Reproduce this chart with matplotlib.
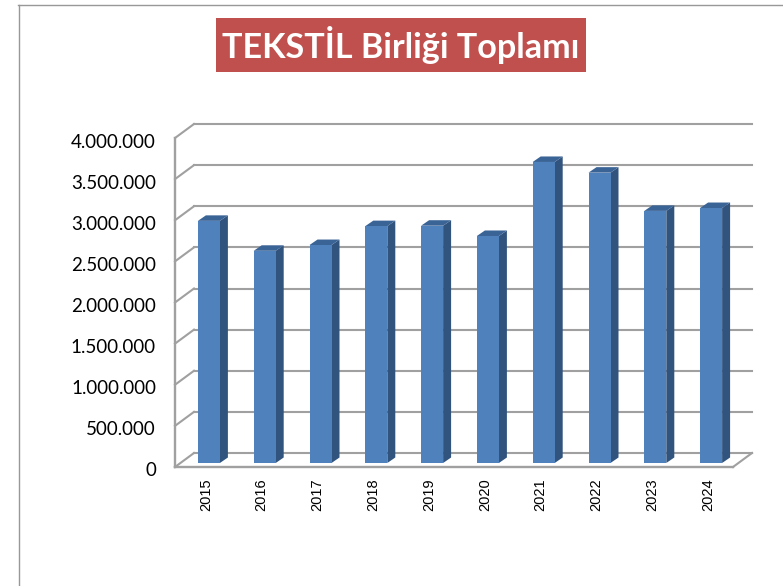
import numpy as np
import matplotlib.pyplot as plt
from matplotlib.patches import Polygon, Rectangle
from matplotlib.transforms import ScaledTranslation

# values
years = ["2015", "2016", "2017", "2018", "2019", "2020", "2021", "2022", "2023", "2024"]
values = [2944000, 2580000, 2650000, 2880000, 2885000, 2760000, 3660000, 3530000, 3065000, 3100000]
yticks = [0, 500000, 1000000, 1500000, 2000000, 2500000, 3000000, 3500000, 4000000]
ytick_labels = ["0", "500.000", "1.000.000", "1.500.000", "2.000.000", "2.500.000", "3.000.000", "3.500.000", "4.000.000"]
title = "TEKSTİL Birliği Toplamı"

W, H = 783, 586
grid_color = "#a0a0a0"

fig = plt.figure(figsize=(W / 100, H / 100), dpi=100)

# outer frame, right and bottom edges run off the picture
fig.add_artist(plt.Line2D([18.5 / W, 18.5 / W], [0, 1 - 5 / H], color="#989898", lw=1.0))
fig.add_artist(plt.Line2D([18 / W, 1], [1 - 5 / H, 1 - 5 / H], color="#989898", lw=1.0))

# axes = front plane of the 3d box
left, right, top, bottom = 175, 733, 138, 467
ax = fig.add_axes([left / W, 1 - bottom / H, (right - left) / W, (bottom - top) / H])
ax.set_xlim(-0.5, 9.5)
ax.set_ylim(0, 4000000)
ax.patch.set_alpha(0)
for s in ax.spines.values():
    s.set_visible(False)

# pixel -> data scale
px_x = 10 / (right - left)
px_y = 4000000 / (bottom - top)
wall_dx, wall_dy = 19 * px_x, 14 * px_y

x0, x1 = -0.5, 9.5
for v in yticks:
    ax.plot([x0 + wall_dx, x1 + wall_dx], [v + wall_dy, v + wall_dy], color=grid_color, lw=1.5, clip_on=False, zorder=1)
    ax.plot([x0, x0 + wall_dx], [v, v + wall_dy], color=grid_color, lw=1.5, clip_on=False, zorder=1)
ax.plot([x0, x0], [0, 4000000], color=grid_color, lw=1.7, clip_on=False, zorder=2)
ax.plot([x0, x1], [0, 0], color=grid_color, lw=1.7, clip_on=False, zorder=2)
ax.plot([x1, x1 + wall_dx], [0, wall_dy], color=grid_color, lw=1.5, clip_on=False, zorder=2)

# bars: front face plus side and top faces
bar_w = 22 * px_x
bar_dx, bar_dy = 6 * px_x, 4 * px_y
depth_x, depth_y = 8 * px_x, 5.5 * px_y
for i, v in enumerate(values):
    xl = i + bar_dx - bar_w / 2
    xr = xl + bar_w
    yb = bar_dy
    yt = bar_dy + v
    ax.bar(xl + bar_w / 2, v, width=bar_w, bottom=yb, color="#4f81bd", linewidth=0, zorder=4)
    ax.add_patch(Polygon([(xr, yb), (xr + depth_x, yb + depth_y), (xr + depth_x, yt + depth_y), (xr, yt)],
                         closed=True, fc="#31547f", ec="none", zorder=3, clip_on=False))
    ax.add_patch(Polygon([(xl, yt), (xl + depth_x, yt + depth_y), (xr + depth_x, yt + depth_y), (xr, yt)],
                         closed=True, fc="#3a6396", ec="none", zorder=3, clip_on=False))

ax.set_yticks(yticks)
ax.set_yticklabels(ytick_labels, fontfamily="Lato", fontsize=13.5, color="#000000")
ax.tick_params(axis="y", length=0, pad=13.7)
down = ScaledTranslation(0, -2.5 / 100, fig.dpi_scale_trans)
for lab in ax.get_yticklabels():
    lab.set_transform(lab.get_transform() + down)

# year labels sit a little left of the bar centre
ax.set_xticks(np.arange(len(years)) + 3 * px_x)
ax.set_xticklabels(years, rotation=90, fontfamily="Liberation Sans", fontsize=10.5, color="#000000")
ax.tick_params(axis="x", length=0, pad=8)

# title box
fig.add_artist(Rectangle((216 / W, 1 - 72 / H), 370 / W, 54 / H, transform=fig.transFigure, fc="#c0504d", ec="none"))
fig.text(401 / W, 1 - 58 / H, title, color="white", fontfamily="Lato", fontweight="bold",
         fontsize=24.6, ha="center", va="baseline")

fig.savefig("out.png", dpi=100)
